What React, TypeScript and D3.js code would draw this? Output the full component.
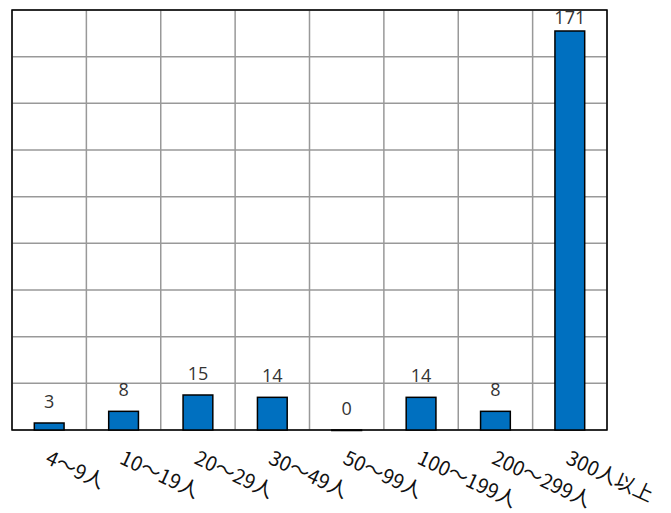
import React, {useEffect, useRef} from 'react';
import * as d3 from 'd3';

const categories = ['4～9人', '10～19人', '20～29人', '30～49人', '50～99人', '100～199人', '200～299人', '300人以上'];
const counts = [3, 8, 15, 14, 0, 14, 8, 171];
const yTicks = [0, 20, 40, 60, 80, 100, 120, 140, 160, 180];

const width = 671;
const height = 513;
const margin = {top: 10, right: 64, bottom: 83, left: 12};

const App: React.FC = () => {
  const ref = useRef<SVGSVGElement>(null);

  useEffect(() => {
    const drawWidth = width - margin.left - margin.right;
    const drawHeight = height - margin.top - margin.bottom;

    const root = d3.select(ref.current);
    root.selectAll('*').remove();
    const svg = root.append('g')
      .attr('transform', 'translate(' + margin.left + ',' + margin.top + ')');

    const x = d3.scaleBand()
      .domain(categories)
      .range([0, drawWidth])
      .paddingInner(0)
      .paddingOuter(0);

    const y = d3.scaleLinear()
      .domain([0, d3.max(yTicks)!])
      .range([drawHeight, 0]);

    // horizontal grid
    svg.selectAll('.hgrid')
      .data(yTicks)
      .enter().append('line')
      .attr('x1', 0)
      .attr('x2', drawWidth)
      .attr('y1', d => y(d))
      .attr('y2', d => y(d))
      .attr('stroke', '#999')
      .attr('stroke-width', 1.5);

    // vertical grid
    const edges = categories.map(c => x(c)!).concat([drawWidth]);
    svg.selectAll('.vgrid')
      .data(edges)
      .enter().append('line')
      .attr('x1', d => d)
      .attr('x2', d => d)
      .attr('y1', 0)
      .attr('y2', drawHeight)
      .attr('stroke', '#999')
      .attr('stroke-width', 1.5);

    // border
    svg.append('rect')
      .attr('x', 0)
      .attr('y', 0)
      .attr('width', drawWidth)
      .attr('height', drawHeight)
      .attr('fill', 'none')
      .attr('stroke', '#000')
      .attr('stroke-width', 1.5);

    const barWidth = x.bandwidth() * 0.4;

    svg.selectAll('.bar')
      .data(counts)
      .enter().append('rect')
      .attr('x', (_, i) => x(categories[i])! + (x.bandwidth() - barWidth) / 2)
      .attr('y', d => y(d))
      .attr('width', barWidth)
      .attr('height', d => Math.max(0.5, y(0) - y(d)))
      .attr('fill', '#0070C0')
      .attr('stroke', '#000')
      .attr('stroke-width', 1.5);

    // value labels
    svg.selectAll('.value')
      .data(counts)
      .enter().append('text')
      .attr('x', (_, i) => x(categories[i])! + x.bandwidth() / 2)
      .attr('y', d => Math.max(y(d) - 15, 14))
      .attr('text-anchor', 'middle')
      .attr('font-family', '"Open Sans", "Noto Sans", sans-serif')
      .attr('font-size', 18)
      .attr('fill', '#333')
      .text(d => d);

    // category labels
    svg.selectAll('.cat')
      .data(categories)
      .enter().append('text')
      .attr('transform', d =>
        'translate(' + (x(d)! + x.bandwidth() / 2 - 5) + ',' + (drawHeight + 33) + ') rotate(25)')
      .attr('text-anchor', 'start')
      .attr('font-family', '"Noto Sans CJK JP", "Open Sans", sans-serif')
      .attr('font-size', 20)
      .attr('fill', '#111')
      .text(d => d);
  }, []);

  return (
    <svg ref={ref} width={width} height={height}
         style={{position: 'absolute', left: 0, top: 0, background: '#fff'}}/>
  );
};

export default App;
